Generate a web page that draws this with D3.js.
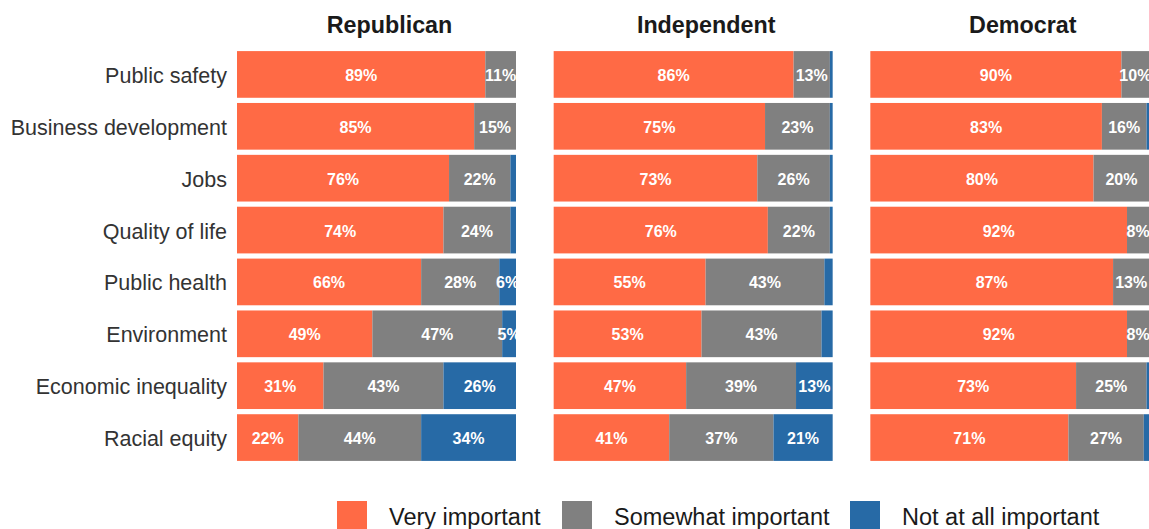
<!DOCTYPE html>
<html><head><meta charset="utf-8">
<script src="https://cdn.jsdelivr.net/npm/d3@7"></script>
<style>body{margin:0;background:#fff}svg{display:block}</style>
</head><body>
<svg id="chart" width="1149" height="529"></svg>
<script>
const categories = ["Public safety","Business development","Jobs","Quality of life","Public health","Environment","Economic inequality","Racial equity"];
const parties = ["Republican","Independent","Democrat"];
const levels = ["Very important","Somewhat important","Not at all important"];
const republicanVery = [89,85,76,74,66,49,31,22];
const republicanSome = [11,15,22,24,28,47,43,44];
const republicanNot  = [0,0,2,2,6,5,26,34];
const independentVery = [86,75,73,76,55,53,47,41];
const independentSome = [13,23,26,22,43,43,39,37];
const independentNot  = [1,1,1,1,3,4,13,21];
const democratVery = [90,83,80,92,87,92,73,71];
const democratSome = [10,16,20,8,13,8,25,27];
const democratNot  = [0,1,0,0,0,0,1,2];
const colors = ["#ff6a45","#808080","#276aa6"];

const seriesByParty = {
  Republican: [republicanVery, republicanSome, republicanNot],
  Independent: [independentVery, independentSome, independentNot],
  Democrat: [democratVery, democratSome, democratNot]
};

const svg = d3.select("#chart");
const font = "Liberation Sans, Arial, sans-serif";
const panelX = d3.scaleBand().domain(parties).range([237, 1149 + 38]).paddingInner(0).paddingOuter(0);
const panelW = 279;
const y = d3.scaleBand().domain(categories).range([48.5, 463.5]).paddingInner(0.1).paddingOuter(0.05);

// category labels
svg.append("g").selectAll("text").data(categories).join("text")
  .attr("x", 227).attr("y", d => y(d) + y.bandwidth()/2 + 1.5)
  .attr("text-anchor","end").attr("dominant-baseline","central")
  .attr("font-family", font).attr("font-size", 21.5).attr("fill","#333")
  .text(d => d);

parties.forEach(p => {
  const x0 = panelX(p);
  const x = d3.scaleLinear().domain([0,1]).range([x0, x0 + panelW]);
  const g = svg.append("g");
  g.append("text").attr("x", x0 + panelW/2 + 13).attr("y", 33)
    .attr("text-anchor","middle").attr("font-family", font).attr("font-weight","bold")
    .attr("font-size", 23.3).attr("fill","#1a1a1a").text(p);
  const s = seriesByParty[p];
  categories.forEach((c, i) => {
    const vals = s.map(a => a[i]);
    const total = d3.sum(vals);
    let cum = 0;
    vals.forEach((v, k) => {
      const a = cum / total, b = (cum + v) / total;
      cum += v;
      if (v <= 0) return;
      g.append("rect").attr("x", x(a)).attr("y", y(c))
        .attr("width", x(b) - x(a)).attr("height", y.bandwidth())
        .attr("fill", colors[k]);
      if (v >= 5) {
        g.append("text").attr("x", (x(a) + x(b)) / 2).attr("y", y(c) + y.bandwidth()/2 + 1)
          .attr("text-anchor","middle").attr("dominant-baseline","central")
          .attr("font-family", font).attr("font-weight","bold").attr("font-size", 16)
          .attr("fill","#fff").text(v + "%");
      }
    });
  });
});

// legend
const legX = [337, 562, 850];
const leg = svg.append("g");
levels.forEach((l, k) => {
  leg.append("rect").attr("x", legX[k]).attr("y", 501).attr("width", 30).attr("height", 30).attr("fill", colors[k]);
  leg.append("text").attr("x", legX[k] + 52).attr("y", 524.5)
    .attr("font-family", font).attr("font-size", 23.5).attr("fill","#1a1a1a").text(l);
});
</script>
</body></html>
